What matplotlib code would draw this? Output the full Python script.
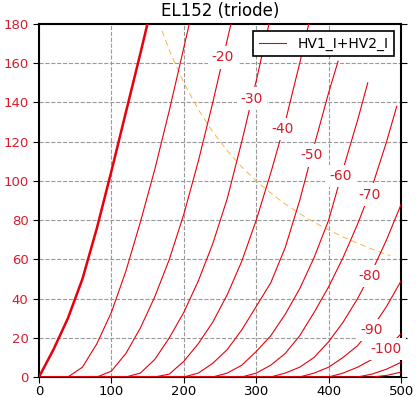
import matplotlib
matplotlib.use('Agg')
import matplotlib.pyplot as plt

# grid voltages (V) of each anode curve
grid_volts = [0, -10, -20, -30, -40, -50, -60, -70, -80, -90, -100, -110, -120]

# anode voltage (V) per curve
anode_v = [
    [0, 20, 40, 60, 80, 100, 120, 140, 160],
    [0, 40, 60, 80, 100, 120, 140, 160, 180, 200, 220],
    [0, 80, 100, 120, 140, 160, 180, 200, 220, 240, 260, 280],
    [0, 120, 140, 160, 180, 200, 220, 240, 260, 280, 300, 320],
    [0, 160, 180, 200, 220, 240, 260, 280, 300, 320, 340, 360, 380],
    [0, 200, 220, 240, 260, 280, 300, 320, 340, 360, 380, 400, 413],
    [0, 240, 260, 280, 300, 320, 340, 360, 380, 400, 420, 440, 454],
    [0, 280, 300, 320, 340, 360, 380, 400, 420, 440, 460, 480, 494],
    [0, 320, 340, 360, 380, 400, 420, 440, 460, 480, 500],
    [0, 360, 380, 400, 420, 440, 460, 480, 500],
    [0, 400, 420, 440, 460, 480, 500],
    [0, 440, 460, 480, 500],
    [0, 460, 480, 500],
]

# anode current (mA) per curve
anode_i = [
    [0, 14, 30, 50, 76, 105, 135, 165, 196],
    [0, 0, 5, 17, 33, 54, 79, 106, 136, 168, 200],
    [0, 0, 3, 12, 25, 41, 60, 83, 110, 140, 172, 204],
    [0, 0, 2, 9, 20, 33, 49, 68, 91, 120, 151, 184],
    [0, 0, 1.5, 8, 17, 28, 42, 59, 80, 104, 130, 160, 192],
    [0, 0, 2, 7, 14, 24, 36, 48, 66, 90, 118, 145, 161],
    [0, 0, 2, 6, 13, 21, 32, 45, 61, 80, 106, 131, 150],
    [0, 0, 2, 6, 12, 21, 33, 46, 61, 78, 97, 120, 138],
    [0, 0, 2, 5, 10, 18, 28, 40, 54, 70, 88],
    [0, 0, 2, 5, 10, 16, 25, 36, 49],
    [0, 0, 2, 5, 9, 14.5, 22],
    [0, 0, 1.5, 4, 7.5],
    [0, 0, 0.8, 2.5],
]

# inline label positions (anode V, mA)
label_text = ['-20', '-30', '-40', '-50', '-60', '-70', '-80', '-90', '-100']
label_v = [254, 294, 337, 376, 416, 456, 457, 459, 479]
label_i = [163, 142, 126.5, 113, 102.5, 93, 51.5, 24, 14.3]

# max dissipation curve
pmax_v = [170, 180, 200, 220, 240, 260, 280, 300, 320, 340, 360, 380, 400, 420, 440, 460, 480, 485]
pmax_i = [176.5, 166.7, 150, 136.4, 125, 115.4, 107.1, 100, 93.8, 88.2, 83.3, 78.9, 75, 71.4, 68.2, 65.2, 62.5, 61.9]

LINE_RED = '#e8000b'
TEXT_RED = '#d81c2c'

fig = plt.figure(figsize=(4.18, 3.97), dpi=100)
ax = fig.add_axes([0.0933, 0.0504, 0.8662, 0.8891])

for n in range(len(grid_volts)):
    if grid_volts[n] == 0:
        ax.plot(anode_v[n], anode_i[n], color=LINE_RED, lw=1.8, zorder=3)
    elif n == 1:
        ax.plot(anode_v[n], anode_i[n], color=LINE_RED, lw=0.8, zorder=3, label='HV1_I+HV2_I')
    else:
        ax.plot(anode_v[n], anode_i[n], color=LINE_RED, lw=0.8, zorder=3)

ax.plot(pmax_v, pmax_i, color='#f5b64a', lw=0.7, dashes=(6, 4), zorder=2)

for t, v, i in zip(label_text, label_v, label_i):
    ax.text(v, i, t, color=TEXT_RED, fontsize=10, ha='center', va='center', zorder=4,
            bbox=dict(facecolor='white', edgecolor='none', pad=3))

ax.set_xlim(0, 500)
ax.set_ylim(0, 180)
ax.set_xticks([0, 100, 200, 300, 400, 500])
ax.set_yticks(range(0, 181, 20))
ax.grid(True, color='#999999', linestyle='--', lw=0.8)
ax.tick_params(axis='both', labelsize=9.5, direction='out', length=4)
ax.tick_params(axis='x', pad=1.5)
ax.tick_params(axis='y', labelcolor=TEXT_RED, right=True)
for s in ax.spines.values():
    s.set_linewidth(1.5)
ax.set_title('EL152 (triode)', fontsize=12)
leg = ax.legend(loc='upper right', fontsize=10, fancybox=False, edgecolor='black', framealpha=1)
leg.get_frame().set_linewidth(1.2)

fig.savefig('out.png', dpi=100)
